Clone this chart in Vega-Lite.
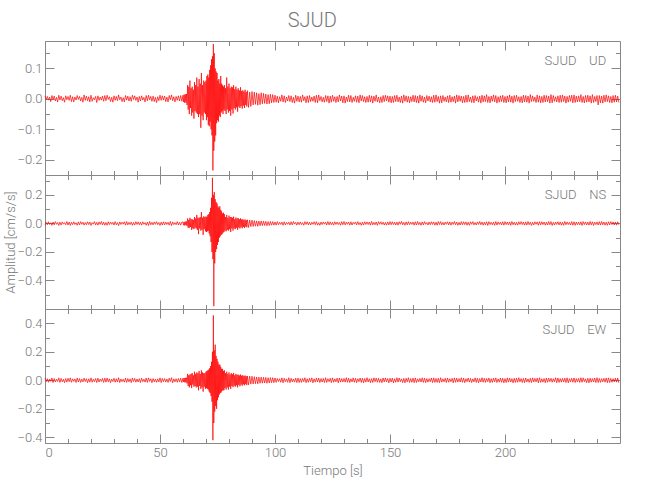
{
"$schema":"https://vega.github.io/schema/vega-lite/v6.json",
"background":"white",
"padding":{"left":3,"top":11,"right":5,"bottom":5},
"title":{"text":"SJUD","fontSize":20,"font":"Liberation Sans Narrow, Roboto, sans-serif","fontWeight":300,"color":"#777","anchor":"middle","offset":9},
"config":{"view":{"stroke":"#888","strokeWidth":1},"axis":{"domain":false,"grid":false,"tickColor":"#888","tickWidth":1,"labelColor":"#777","labelFont":"Liberation Sans Narrow, Roboto, sans-serif","labelFontWeight":300,"labelFontSize":13,"titleFont":"Liberation Sans Narrow, Roboto, sans-serif","titleFontSize":13,"titleColor":"#777","titleFontWeight":300,"labelPadding":12},"text":{"font":"Liberation Sans Narrow, Roboto, sans-serif","fontSize":13,"fontWeight":300,"color":"#777"}},
"spacing":0,
"bounds":"flush",
"datasets":{"d":[
{"t":0,"u":0.010,"n":-0.012,"e":0.015},{"t":0.5,"u":-0.003,"n":0.008,"e":-0.010},{"t":1,"u":0.008,"n":-0.009,"e":0.011},{"t":1.5,"u":-0.004,"n":0.012,"e":-0.014},{"t":2,"u":0.006,"n":-0.007,"e":0.009},{"t":2.5,"u":-0.009,"n":0.005,"e":-0.008},{"t":3,"u":0.011,"n":-0.013,"e":0.016},{"t":3.5,"u":-0.002,"n":0.010,"e":-0.016},{"t":4,"u":0.009,"n":-0.010,"e":0.012},{"t":4.5,"u":-0.007,"n":0.013,"e":-0.012},
{"t":5,"u":0.005,"n":-0.006,"e":0.008},{"t":5.5,"u":-0.010,"n":0.007,"e":-0.009},{"t":6,"u":0.012,"n":-0.014,"e":0.017},{"t":6.5,"u":-0.004,"n":0.009,"e":-0.015},{"t":7,"u":0.009,"n":-0.011,"e":0.013},{"t":7.5,"u":-0.006,"n":0.011,"e":-0.011},{"t":8,"u":0.004,"n":-0.005,"e":0.007},{"t":8.5,"u":-0.011,"n":0.006,"e":-0.017},{"t":9,"u":0.010,"n":-0.009,"e":0.012},{"t":9.5,"u":-0.003,"n":0.014,"e":-0.013},
{"t":10,"u":0.008,"n":-0.011,"e":0.014},{"t":10.5,"u":-0.005,"n":0.010,"e":-0.010},{"t":11,"u":0.012,"n":-0.014,"e":0.017},{"t":11.5,"u":-0.009,"n":0.008,"e":-0.014},{"t":12,"u":0.007,"n":-0.008,"e":0.010},{"t":12.5,"u":-0.010,"n":0.012,"e":-0.008},{"t":13,"u":0.006,"n":-0.007,"e":0.009},{"t":13.5,"u":-0.004,"n":0.005,"e":-0.016},{"t":14,"u":0.011,"n":-0.013,"e":0.016},{"t":14.5,"u":-0.002,"n":0.011,"e":-0.012},
{"t":15,"u":0.008,"n":-0.010,"e":0.012},{"t":15.5,"u":-0.007,"n":0.013,"e":-0.015},{"t":16,"u":0.005,"n":-0.006,"e":0.008},{"t":16.5,"u":-0.011,"n":0.009,"e":-0.011},{"t":17,"u":0.013,"n":-0.012,"e":0.015},{"t":17.5,"u":-0.005,"n":0.007,"e":-0.009},{"t":18,"u":0.009,"n":-0.009,"e":0.011},{"t":18.5,"u":-0.006,"n":0.012,"e":-0.017},{"t":19,"u":0.007,"n":-0.008,"e":0.010},{"t":19.5,"u":-0.010,"n":0.010,"e":-0.013},
{"t":20,"u":0.012,"n":-0.014,"e":0.017},{"t":20.5,"u":-0.008,"n":0.006,"e":-0.014},{"t":21,"u":0.004,"n":-0.005,"e":0.007},{"t":21.5,"u":-0.003,"n":0.013,"e":-0.010},{"t":22,"u":0.008,"n":-0.010,"e":0.012},{"t":22.5,"u":-0.012,"n":0.008,"e":-0.016},{"t":23,"u":0.010,"n":-0.012,"e":0.015},{"t":23.5,"u":-0.005,"n":0.011,"e":-0.012},{"t":24,"u":0.006,"n":-0.007,"e":0.009},{"t":24.5,"u":-0.004,"n":0.014,"e":-0.008},
{"t":25,"u":0.009,"n":-0.010,"e":0.013},{"t":25.5,"u":-0.008,"n":0.009,"e":-0.015},{"t":26,"u":0.011,"n":-0.012,"e":0.015},{"t":26.5,"u":-0.006,"n":0.007,"e":-0.013},{"t":27,"u":0.012,"n":-0.013,"e":0.016},{"t":27.5,"u":-0.002,"n":0.012,"e":-0.011},{"t":28,"u":0.007,"n":-0.008,"e":0.010},{"t":28.5,"u":-0.009,"n":0.010,"e":-0.017},{"t":29,"u":0.005,"n":-0.006,"e":0.008},{"t":29.5,"u":-0.011,"n":0.008,"e":-0.009},
{"t":30,"u":0.010,"n":-0.011,"e":0.014},{"t":30.5,"u":-0.005,"n":0.013,"e":-0.014},{"t":31,"u":0.008,"n":-0.009,"e":0.011},{"t":31.5,"u":-0.006,"n":0.006,"e":-0.012},{"t":32,"u":0.013,"n":-0.015,"e":0.018},{"t":32.5,"u":-0.003,"n":0.011,"e":-0.016},{"t":33,"u":0.006,"n":-0.007,"e":0.009},{"t":33.5,"u":-0.009,"n":0.009,"e":-0.010},{"t":34,"u":0.004,"n":-0.005,"e":0.007},{"t":34.5,"u":-0.010,"n":0.012,"e":-0.013},
{"t":35,"u":0.011,"n":-0.012,"e":0.015},{"t":35.5,"u":-0.004,"n":0.014,"e":-0.015},{"t":36,"u":0.009,"n":-0.010,"e":0.012},{"t":36.5,"u":-0.007,"n":0.008,"e":-0.011},{"t":37,"u":0.007,"n":-0.008,"e":0.010},{"t":37.5,"u":-0.008,"n":0.010,"e":-0.017},{"t":38,"u":0.012,"n":-0.013,"e":0.016},{"t":38.5,"u":-0.002,"n":0.007,"e":-0.009},{"t":39,"u":0.010,"n":-0.011,"e":0.013},{"t":39.5,"u":-0.005,"n":0.013,"e":-0.014},
{"t":40,"u":0.006,"n":-0.007,"e":0.009},{"t":40.5,"u":-0.011,"n":0.011,"e":-0.012},{"t":41,"u":0.008,"n":-0.009,"e":0.011},{"t":41.5,"u":-0.007,"n":0.009,"e":-0.016},{"t":42,"u":0.010,"n":-0.012,"e":0.015},{"t":42.5,"u":-0.004,"n":0.012,"e":-0.010},{"t":43,"u":0.005,"n":-0.006,"e":0.008},{"t":43.5,"u":-0.010,"n":0.006,"e":-0.013},{"t":44,"u":0.011,"n":-0.013,"e":0.016},{"t":44.5,"u":-0.006,"n":0.010,"e":-0.015},
{"t":45,"u":0.012,"n":-0.014,"e":0.017},{"t":45.5,"u":-0.003,"n":0.014,"e":-0.008},{"t":46,"u":0.008,"n":-0.009,"e":0.011},{"t":46.5,"u":-0.008,"n":0.008,"e":-0.017},{"t":47,"u":0.009,"n":-0.010,"e":0.012},{"t":47.5,"u":-0.009,"n":0.011,"e":-0.011},{"t":48,"u":0.005,"n":-0.006,"e":0.008},{"t":48.5,"u":-0.012,"n":0.013,"e":-0.014},{"t":49,"u":0.007,"n":-0.008,"e":0.010},{"t":49.5,"u":-0.006,"n":0.007,"e":-0.012},
{"t":50,"u":0.012,"n":-0.014,"e":0.017},{"t":50.5,"u":-0.005,"n":0.009,"e":-0.016},{"t":51,"u":0.010,"n":-0.011,"e":0.013},{"t":51.5,"u":-0.004,"n":0.012,"e":-0.010},{"t":52,"u":0.009,"n":-0.010,"e":0.012},{"t":52.5,"u":-0.009,"n":0.010,"e":-0.013},{"t":53,"u":0.006,"n":-0.007,"e":0.009},{"t":53.5,"u":-0.010,"n":0.008,"e":-0.015},{"t":54,"u":0.011,"n":-0.012,"e":0.015},{"t":54.5,"u":-0.003,"n":0.014,"e":-0.009},
{"t":55,"u":0.013,"n":-0.015,"e":0.018},{"t":55.5,"u":-0.006,"n":0.011,"e":-0.018},{"t":56,"u":0.007,"n":-0.008,"e":0.010},{"t":56.5,"u":-0.010,"n":0.006,"e":-0.011},{"t":57,"u":0.008,"n":-0.009,"e":0.011},{"t":57.5,"u":-0.005,"n":0.013,"e":-0.014},{"t":58,"u":0.010,"n":-0.011,"e":0.013},{"t":58.5,"u":-0.007,"n":0.009,"e":-0.012},{"t":59,"u":0.011,"n":-0.012,"e":0.015},{"t":59.5,"u":-0.008,"n":0.010,"e":-0.016},
{"t":60,"u":0.012,"n":0.010,"e":0.014},{"t":60.25,"u":-0.010,"n":-0.012,"e":-0.012},{"t":60.5,"u":0.014,"n":0.011,"e":0.016},{"t":60.75,"u":-0.013,"n":-0.014,"e":-0.015},{"t":61,"u":0.015,"n":0.013,"e":0.017},{"t":61.25,"u":-0.012,"n":-0.011,"e":-0.014},{"t":61.5,"u":0.016,"n":0.014,"e":0.018},{"t":61.75,"u":-0.020,"n":-0.018,"e":-0.022},
{"t":62,"u":0.045,"n":0.035,"e":0.045},{"t":62.25,"u":-0.035,"n":-0.030,"e":-0.040},{"t":62.5,"u":0.040,"n":0.025,"e":0.035},{"t":62.75,"u":-0.050,"n":-0.030,"e":-0.050},{"t":63,"u":0.060,"n":0.040,"e":0.040},{"t":63.25,"u":-0.030,"n":-0.025,"e":-0.035},{"t":63.5,"u":0.035,"n":0.030,"e":0.045},{"t":63.75,"u":-0.055,"n":-0.045,"e":-0.055},
{"t":64,"u":0.040,"n":0.030,"e":0.050},{"t":64.25,"u":-0.045,"n":-0.035,"e":-0.030},{"t":64.5,"u":0.030,"n":0.025,"e":0.035},{"t":64.75,"u":-0.065,"n":-0.040,"e":-0.045},{"t":65,"u":0.055,"n":0.045,"e":0.060},{"t":65.25,"u":-0.040,"n":-0.030,"e":-0.040},{"t":65.5,"u":0.045,"n":0.035,"e":0.045},{"t":65.75,"u":-0.045,"n":-0.035,"e":-0.050},
{"t":66,"u":0.070,"n":0.060,"e":0.055},{"t":66.25,"u":-0.050,"n":-0.045,"e":-0.045},{"t":66.5,"u":0.040,"n":0.040,"e":0.050},{"t":66.75,"u":-0.060,"n":-0.075,"e":-0.070},{"t":67,"u":0.065,"n":0.040,"e":0.065},{"t":67.25,"u":-0.050,"n":-0.035,"e":-0.040},{"t":67.5,"u":0.050,"n":0.045,"e":0.045},{"t":67.75,"u":-0.095,"n":-0.050,"e":-0.060},
{"t":68,"u":0.085,"n":0.080,"e":0.070},{"t":68.25,"u":-0.055,"n":-0.045,"e":-0.050},{"t":68.5,"u":0.045,"n":0.040,"e":0.055},{"t":68.75,"u":-0.070,"n":-0.080,"e":-0.080},{"t":69,"u":0.060,"n":0.050,"e":0.050},{"t":69.25,"u":-0.045,"n":-0.040,"e":-0.045},{"t":69.5,"u":0.055,"n":0.045,"e":0.050},{"t":69.75,"u":-0.050,"n":-0.055,"e":-0.060},
{"t":70,"u":0.060,"n":0.050,"e":0.060},{"t":70.2,"u":-0.070,"n":-0.060,"e":-0.055},{"t":70.4,"u":0.075,"n":0.045,"e":0.065},{"t":70.6,"u":-0.060,"n":-0.055,"e":-0.060},{"t":70.8,"u":0.080,"n":0.060,"e":0.070},{"t":71,"u":-0.085,"n":-0.050,"e":-0.065},{"t":71.2,"u":0.070,"n":0.065,"e":0.075},{"t":71.4,"u":-0.090,"n":-0.070,"e":-0.080},{"t":71.6,"u":0.095,"n":0.080,"e":0.085},{"t":71.8,"u":-0.075,"n":-0.090,"e":-0.090},
{"t":72,"u":0.110,"n":0.110,"e":0.100},{"t":72.2,"u":-0.100,"n":-0.130,"e":-0.110},{"t":72.4,"u":0.130,"n":0.180,"e":0.130},{"t":72.6,"u":-0.120,"n":-0.200,"e":-0.150},{"t":72.8,"u":0.140,"n":0.320,"e":0.200},{"t":73,"u":-0.235,"n":-0.250,"e":-0.420},{"t":73.2,"u":0.180,"n":0.200,"e":0.455},{"t":73.4,"u":-0.170,"n":-0.580,"e":-0.300},{"t":73.6,"u":0.150,"n":0.220,"e":0.210},{"t":73.8,"u":-0.140,"n":-0.280,"e":-0.220},
{"t":74,"u":0.100,"n":0.170,"e":0.250},{"t":74.2,"u":-0.120,"n":-0.200,"e":-0.180},{"t":74.4,"u":0.090,"n":0.150,"e":0.170},{"t":74.6,"u":-0.080,"n":-0.180,"e":-0.200},{"t":74.8,"u":0.085,"n":0.140,"e":0.150},{"t":75,"u":-0.070,"n":-0.150,"e":-0.140},{"t":75.2,"u":0.060,"n":0.120,"e":0.130},{"t":75.4,"u":-0.075,"n":-0.130,"e":-0.120},{"t":75.6,"u":0.065,"n":0.110,"e":0.110},{"t":75.8,"u":-0.055,"n":-0.100,"e":-0.100},
{"t":76,"u":0.050,"n":0.120,"e":0.110},{"t":76.2,"u":-0.060,"n":-0.090,"e":-0.090},{"t":76.4,"u":0.075,"n":0.095,"e":0.095},{"t":76.6,"u":-0.045,"n":-0.080,"e":-0.085},{"t":76.8,"u":0.050,"n":0.085,"e":0.080},{"t":77,"u":-0.040,"n":-0.075,"e":-0.075},{"t":77.2,"u":0.045,"n":0.070,"e":0.080},{"t":77.4,"u":-0.050,"n":-0.065,"e":-0.070},{"t":77.6,"u":0.040,"n":0.075,"e":0.065},{"t":77.8,"u":-0.035,"n":-0.060,"e":-0.070},
{"t":78,"u":0.045,"n":0.065,"e":0.070},{"t":78.25,"u":-0.040,"n":-0.050,"e":-0.055},{"t":78.5,"u":0.035,"n":0.045,"e":0.050},{"t":78.75,"u":-0.050,"n":-0.055,"e":-0.065},{"t":79,"u":0.070,"n":0.060,"e":0.060},{"t":79.25,"u":-0.035,"n":-0.045,"e":-0.050},{"t":79.5,"u":0.040,"n":0.040,"e":0.045},{"t":79.75,"u":-0.045,"n":-0.050,"e":-0.065},
{"t":80,"u":0.050,"n":0.055,"e":0.055},{"t":80.25,"u":-0.040,"n":-0.040,"e":-0.045},{"t":80.5,"u":0.035,"n":0.045,"e":0.040},{"t":80.75,"u":-0.055,"n":-0.060,"e":-0.060},{"t":81,"u":0.040,"n":0.045,"e":0.050},{"t":81.25,"u":-0.035,"n":-0.035,"e":-0.040},{"t":81.5,"u":0.038,"n":0.040,"e":0.042},{"t":81.75,"u":-0.048,"n":-0.050,"e":-0.048},
{"t":82,"u":0.045,"n":0.048,"e":0.052},{"t":82.25,"u":-0.030,"n":-0.035,"e":-0.038},{"t":82.5,"u":0.032,"n":0.030,"e":0.035},{"t":82.75,"u":-0.035,"n":-0.040,"e":-0.045},{"t":83,"u":0.040,"n":0.042,"e":0.045},{"t":83.25,"u":-0.028,"n":-0.030,"e":-0.035},{"t":83.5,"u":0.030,"n":0.035,"e":0.038},{"t":83.75,"u":-0.042,"n":-0.045,"e":-0.050},
{"t":84,"u":0.035,"n":0.038,"e":0.040},{"t":84.25,"u":-0.025,"n":-0.028,"e":-0.032},{"t":84.5,"u":0.028,"n":0.030,"e":0.034},{"t":84.75,"u":-0.030,"n":-0.035,"e":-0.042},{"t":85,"u":0.038,"n":0.036,"e":0.040},{"t":85.25,"u":-0.024,"n":-0.026,"e":-0.030},{"t":85.5,"u":0.026,"n":0.028,"e":0.032},{"t":85.75,"u":-0.032,"n":-0.034,"e":-0.038},
{"t":86,"u":0.028,"n":0.030,"e":0.036},{"t":86.25,"u":-0.022,"n":-0.024,"e":-0.028},{"t":86.5,"u":0.024,"n":0.025,"e":0.030},{"t":86.75,"u":-0.030,"n":-0.032,"e":-0.035},{"t":87,"u":0.030,"n":0.028,"e":0.033},{"t":87.25,"u":-0.020,"n":-0.022,"e":-0.027},{"t":87.5,"u":0.022,"n":0.023,"e":0.028},{"t":87.75,"u":-0.025,"n":-0.027,"e":-0.034},
{"t":88,"u":0.027,"n":0.026,"e":0.030},{"t":88.5,"u":-0.028,"n":-0.028,"e":-0.032},{"t":89,"u":0.022,"n":0.024,"e":0.029},{"t":89.5,"u":-0.025,"n":-0.022,"e":-0.027},{"t":90,"u":0.024,"n":0.023,"e":0.028},{"t":90.5,"u":-0.020,"n":-0.021,"e":-0.026},{"t":91,"u":0.022,"n":0.020,"e":0.025},{"t":91.5,"u":-0.018,"n":-0.019,"e":-0.024},{"t":92,"u":0.020,"n":0.018,"e":0.023},{"t":92.5,"u":-0.021,"n":-0.020,"e":-0.025},
{"t":93,"u":0.017,"n":0.017,"e":0.022},{"t":93.5,"u":-0.019,"n":-0.016,"e":-0.021},{"t":94,"u":0.020,"n":0.018,"e":0.022},{"t":94.5,"u":-0.016,"n":-0.015,"e":-0.020},{"t":95,"u":0.018,"n":0.016,"e":0.021},{"t":95.5,"u":-0.015,"n":-0.014,"e":-0.019},{"t":96,"u":0.016,"n":0.015,"e":0.020},{"t":96.5,"u":-0.017,"n":-0.016,"e":-0.021},{"t":97,"u":0.014,"n":0.013,"e":0.018},{"t":97.5,"u":-0.016,"n":-0.014,"e":-0.019},
{"t":98,"u":0.015,"n":0.014,"e":0.019},{"t":98.5,"u":-0.013,"n":-0.012,"e":-0.017},{"t":99,"u":0.014,"n":0.013,"e":0.018},{"t":99.5,"u":-0.012,"n":-0.012,"e":-0.017},
{"t":100,"u":0.012,"n":0.011,"e":0.016},{"t":100.5,"u":-0.011,"n":-0.012,"e":-0.015},{"t":101,"u":0.009,"n":0.013,"e":0.013},{"t":101.5,"u":-0.013,"n":-0.009,"e":-0.009},{"t":102,"u":0.007,"n":0.008,"e":0.011},{"t":102.5,"u":-0.008,"n":-0.007,"e":-0.014},{"t":103,"u":0.013,"n":0.010,"e":0.017},{"t":103.5,"u":-0.010,"n":-0.013,"e":-0.018},{"t":104,"u":0.010,"n":0.012,"e":0.014},{"t":104.5,"u":-0.012,"n":-0.010,"e":-0.010},
{"t":105,"u":0.006,"n":0.007,"e":0.010},{"t":105.5,"u":-0.007,"n":-0.006,"e":-0.014},{"t":106,"u":0.011,"n":0.009,"e":0.018},{"t":106.5,"u":-0.009,"n":-0.011,"e":-0.017},{"t":107,"u":0.010,"n":0.012,"e":0.014},{"t":107.5,"u":-0.012,"n":-0.010,"e":-0.011},{"t":108,"u":0.005,"n":0.014,"e":0.009},{"t":108.5,"u":-0.014,"n":-0.005,"e":-0.013},{"t":109,"u":0.012,"n":0.008,"e":0.015},{"t":109.5,"u":-0.008,"n":-0.012,"e":-0.016},
{"t":110,"u":0.009,"n":0.010,"e":0.016},{"t":110.5,"u":-0.010,"n":-0.009,"e":-0.016},{"t":111,"u":0.008,"n":0.011,"e":0.012},{"t":111.5,"u":-0.011,"n":-0.008,"e":-0.015},{"t":112,"u":0.013,"n":0.006,"e":0.013},{"t":112.5,"u":-0.006,"n":-0.013,"e":-0.010},{"t":113,"u":0.007,"n":0.013,"e":0.018},{"t":113.5,"u":-0.013,"n":-0.007,"e":-0.017},{"t":114,"u":0.010,"n":0.012,"e":0.011},{"t":114.5,"u":-0.012,"n":-0.010,"e":-0.014},
{"t":115,"u":0.011,"n":0.009,"e":0.014},{"t":115.5,"u":-0.009,"n":-0.011,"e":-0.011},{"t":116,"u":0.006,"n":0.008,"e":0.017},{"t":116.5,"u":-0.008,"n":-0.006,"e":-0.018},{"t":117,"u":0.009,"n":0.012,"e":0.010},{"t":117.5,"u":-0.012,"n":-0.009,"e":-0.013},{"t":118,"u":0.012,"n":0.013,"e":0.015},{"t":118.5,"u":-0.013,"n":-0.012,"e":-0.012},{"t":119,"u":0.013,"n":0.006,"e":0.016},{"t":119.5,"u":-0.006,"n":-0.013,"e":-0.016},
{"t":120,"u":0.008,"n":0.010,"e":0.012},{"t":120.5,"u":-0.010,"n":-0.008,"e":-0.012},{"t":121,"u":0.005,"n":0.011,"e":0.013},{"t":121.5,"u":-0.011,"n":-0.005,"e":-0.016},{"t":122,"u":0.011,"n":0.009,"e":0.018},{"t":122.5,"u":-0.009,"n":-0.011,"e":-0.015},{"t":123,"u":0.010,"n":0.014,"e":0.011},{"t":123.5,"u":-0.014,"n":-0.010,"e":-0.010},{"t":124,"u":0.009,"n":0.011,"e":0.014},{"t":124.5,"u":-0.011,"n":-0.009,"e":-0.017},
{"t":125,"u":0.012,"n":0.008,"e":0.017},{"t":125.5,"u":-0.008,"n":-0.012,"e":-0.014},{"t":126,"u":0.007,"n":0.012,"e":0.010},{"t":126.5,"u":-0.012,"n":-0.007,"e":-0.011},{"t":127,"u":0.008,"n":0.010,"e":0.015},{"t":127.5,"u":-0.010,"n":-0.008,"e":-0.018},{"t":128,"u":0.013,"n":0.007,"e":0.016},{"t":128.5,"u":-0.007,"n":-0.013,"e":-0.013},{"t":129,"u":0.009,"n":0.013,"e":0.012},{"t":129.5,"u":-0.013,"n":-0.009,"e":-0.012},
{"t":130,"u":0.010,"n":0.014,"e":0.013},{"t":130.5,"u":-0.014,"n":-0.010,"e":-0.013},{"t":131,"u":0.006,"n":0.009,"e":0.018},{"t":131.5,"u":-0.009,"n":-0.006,"e":-0.014},{"t":132,"u":0.012,"n":0.010,"e":0.015},{"t":132.5,"u":-0.010,"n":-0.012,"e":-0.016},{"t":133,"u":0.011,"n":0.012,"e":0.010},{"t":133.5,"u":-0.012,"n":-0.011,"e":-0.011},{"t":134,"u":0.005,"n":0.008,"e":0.017},{"t":134.5,"u":-0.008,"n":-0.005,"e":-0.014},
{"t":135,"u":0.010,"n":0.011,"e":0.014},{"t":135.5,"u":-0.011,"n":-0.010,"e":-0.017},{"t":136,"u":0.009,"n":0.013,"e":0.011},{"t":136.5,"u":-0.013,"n":-0.009,"e":-0.010},{"t":137,"u":0.013,"n":0.007,"e":0.016},{"t":137.5,"u":-0.007,"n":-0.013,"e":-0.015},{"t":138,"u":0.011,"n":0.009,"e":0.014},{"t":138.5,"u":-0.009,"n":-0.011,"e":-0.018},{"t":139,"u":0.007,"n":0.012,"e":0.013},{"t":139.5,"u":-0.012,"n":-0.007,"e":-0.013},
{"t":140,"u":0.008,"n":0.011,"e":0.018},{"t":140.5,"u":-0.011,"n":-0.008,"e":-0.012},{"t":141,"u":0.012,"n":0.010,"e":0.011},{"t":141.5,"u":-0.010,"n":-0.012,"e":-0.017},{"t":142,"u":0.010,"n":0.014,"e":0.012},{"t":142.5,"u":-0.014,"n":-0.010,"e":-0.016},{"t":143,"u":0.009,"n":0.008,"e":0.017},{"t":143.5,"u":-0.008,"n":-0.009,"e":-0.010},{"t":144,"u":0.013,"n":0.010,"e":0.015},{"t":144.5,"u":-0.010,"n":-0.013,"e":-0.014},
{"t":145,"u":0.006,"n":0.013,"e":0.014},{"t":145.5,"u":-0.013,"n":-0.006,"e":-0.015},{"t":146,"u":0.007,"n":0.012,"e":0.010},{"t":146.5,"u":-0.012,"n":-0.007,"e":-0.017},{"t":147,"u":0.011,"n":0.009,"e":0.016},{"t":147.5,"u":-0.009,"n":-0.011,"e":-0.012},{"t":148,"u":0.012,"n":0.007,"e":0.017},{"t":148.5,"u":-0.007,"n":-0.012,"e":-0.011},{"t":149,"u":0.010,"n":0.011,"e":0.012},{"t":149.5,"u":-0.011,"n":-0.010,"e":-0.018},
{"t":150,"u":0.009,"n":0.013,"e":0.014},{"t":150.5,"u":-0.013,"n":-0.009,"e":-0.012},{"t":151,"u":0.008,"n":0.012,"e":0.015},{"t":151.5,"u":-0.012,"n":-0.008,"e":-0.018},{"t":152,"u":0.011,"n":0.009,"e":0.011},{"t":152.5,"u":-0.009,"n":-0.011,"e":-0.014},{"t":153,"u":0.012,"n":0.010,"e":0.018},{"t":153.5,"u":-0.010,"n":-0.012,"e":-0.013},{"t":154,"u":0.006,"n":0.012,"e":0.016},{"t":154.5,"u":-0.012,"n":-0.006,"e":-0.010},
{"t":155,"u":0.009,"n":0.014,"e":0.010},{"t":155.5,"u":-0.014,"n":-0.009,"e":-0.016},{"t":156,"u":0.013,"n":0.008,"e":0.013},{"t":156.5,"u":-0.008,"n":-0.013,"e":-0.018},{"t":157,"u":0.010,"n":0.011,"e":0.014},{"t":157.5,"u":-0.011,"n":-0.010,"e":-0.011},{"t":158,"u":0.008,"n":0.013,"e":0.018},{"t":158.5,"u":-0.013,"n":-0.008,"e":-0.015},{"t":159,"u":0.007,"n":0.009,"e":0.012},{"t":159.5,"u":-0.009,"n":-0.007,"e":-0.014},
{"t":160,"u":0.012,"n":0.010,"e":0.015},{"t":160.5,"u":-0.010,"n":-0.012,"e":-0.017},{"t":161,"u":0.011,"n":0.012,"e":0.016},{"t":161.5,"u":-0.012,"n":-0.011,"e":-0.016},{"t":162,"u":0.009,"n":0.014,"e":0.010},{"t":162.5,"u":-0.014,"n":-0.009,"e":-0.011},{"t":163,"u":0.013,"n":0.008,"e":0.013},{"t":163.5,"u":-0.008,"n":-0.013,"e":-0.012},{"t":164,"u":0.010,"n":0.011,"e":0.017},{"t":164.5,"u":-0.011,"n":-0.010,"e":-0.015},
{"t":165,"u":0.006,"n":0.013,"e":0.015},{"t":165.5,"u":-0.013,"n":-0.006,"e":-0.017},{"t":166,"u":0.011,"n":0.007,"e":0.012},{"t":166.5,"u":-0.007,"n":-0.011,"e":-0.013},{"t":167,"u":0.009,"n":0.010,"e":0.011},{"t":167.5,"u":-0.010,"n":-0.009,"e":-0.010},{"t":168,"u":0.007,"n":0.012,"e":0.016},{"t":168.5,"u":-0.012,"n":-0.007,"e":-0.016},{"t":169,"u":0.012,"n":0.011,"e":0.017},{"t":169.5,"u":-0.011,"n":-0.012,"e":-0.015},
{"t":170,"u":0.013,"n":0.009,"e":0.013},{"t":170.5,"u":-0.009,"n":-0.013,"e":-0.015},{"t":171,"u":0.008,"n":0.014,"e":0.014},{"t":171.5,"u":-0.014,"n":-0.008,"e":-0.017},{"t":172,"u":0.010,"n":0.013,"e":0.018},{"t":172.5,"u":-0.013,"n":-0.010,"e":-0.013},{"t":173,"u":0.011,"n":0.008,"e":0.010},{"t":173.5,"u":-0.008,"n":-0.011,"e":-0.011},{"t":174,"u":0.006,"n":0.010,"e":0.014},{"t":174.5,"u":-0.010,"n":-0.006,"e":-0.016},
{"t":175,"u":0.010,"n":0.012,"e":0.016},{"t":175.5,"u":-0.012,"n":-0.010,"e":-0.014},{"t":176,"u":0.012,"n":0.011,"e":0.011},{"t":176.5,"u":-0.011,"n":-0.012,"e":-0.010},{"t":177,"u":0.007,"n":0.009,"e":0.013},{"t":177.5,"u":-0.009,"n":-0.007,"e":-0.018},{"t":178,"u":0.009,"n":0.014,"e":0.017},{"t":178.5,"u":-0.014,"n":-0.009,"e":-0.014},{"t":179,"u":0.013,"n":0.010,"e":0.015},{"t":179.5,"u":-0.010,"n":-0.013,"e":-0.013},
{"t":180,"u":0.011,"n":0.008,"e":0.012},{"t":180.5,"u":-0.008,"n":-0.011,"e":-0.012},{"t":181,"u":0.009,"n":0.013,"e":0.018},{"t":181.5,"u":-0.013,"n":-0.009,"e":-0.014},{"t":182,"u":0.008,"n":0.012,"e":0.015},{"t":182.5,"u":-0.012,"n":-0.008,"e":-0.017},{"t":183,"u":0.012,"n":0.011,"e":0.011},{"t":183.5,"u":-0.011,"n":-0.012,"e":-0.010},{"t":184,"u":0.013,"n":0.009,"e":0.016},{"t":184.5,"u":-0.009,"n":-0.013,"e":-0.013},
{"t":185,"u":0.006,"n":0.012,"e":0.013},{"t":185.5,"u":-0.012,"n":-0.006,"e":-0.016},{"t":186,"u":0.010,"n":0.013,"e":0.010},{"t":186.5,"u":-0.013,"n":-0.010,"e":-0.011},{"t":187,"u":0.011,"n":0.007,"e":0.017},{"t":187.5,"u":-0.007,"n":-0.011,"e":-0.015},{"t":188,"u":0.007,"n":0.011,"e":0.014},{"t":188.5,"u":-0.011,"n":-0.007,"e":-0.018},{"t":189,"u":0.009,"n":0.014,"e":0.012},{"t":189.5,"u":-0.014,"n":-0.009,"e":-0.012},
{"t":190,"u":0.012,"n":0.010,"e":0.018},{"t":190.5,"u":-0.010,"n":-0.012,"e":-0.014},{"t":191,"u":0.010,"n":0.009,"e":0.014},{"t":191.5,"u":-0.009,"n":-0.010,"e":-0.015},{"t":192,"u":0.014,"n":0.012,"e":0.013},{"t":192.5,"u":-0.012,"n":-0.014,"e":-0.010},{"t":193,"u":0.008,"n":0.013,"e":0.016},{"t":193.5,"u":-0.013,"n":-0.008,"e":-0.017},{"t":194,"u":0.009,"n":0.008,"e":0.011},{"t":194.5,"u":-0.008,"n":-0.009,"e":-0.015},
{"t":195,"u":0.013,"n":0.010,"e":0.015},{"t":195.5,"u":-0.010,"n":-0.013,"e":-0.011},{"t":196,"u":0.011,"n":0.014,"e":0.017},{"t":196.5,"u":-0.014,"n":-0.011,"e":-0.016},{"t":197,"u":0.007,"n":0.011,"e":0.010},{"t":197.5,"u":-0.011,"n":-0.007,"e":-0.013},{"t":198,"u":0.010,"n":0.009,"e":0.015},{"t":198.5,"u":-0.009,"n":-0.010,"e":-0.014},{"t":199,"u":0.012,"n":0.012,"e":0.014},{"t":199.5,"u":-0.012,"n":-0.012,"e":-0.018},
{"t":200,"u":0.008,"n":0.013,"e":0.012},{"t":200.5,"u":-0.013,"n":-0.008,"e":-0.016},{"t":201,"u":0.010,"n":0.010,"e":0.017},{"t":201.5,"u":-0.010,"n":-0.010,"e":-0.013},{"t":202,"u":0.013,"n":0.011,"e":0.016},{"t":202.5,"u":-0.011,"n":-0.013,"e":-0.012},{"t":203,"u":0.009,"n":0.014,"e":0.011},{"t":203.5,"u":-0.014,"n":-0.009,"e":-0.018},{"t":204,"u":0.011,"n":0.009,"e":0.014},{"t":204.5,"u":-0.009,"n":-0.011,"e":-0.015},
{"t":205,"u":0.012,"n":0.008,"e":0.015},{"t":205.5,"u":-0.008,"n":-0.012,"e":-0.014},{"t":206,"u":0.007,"n":0.012,"e":0.018},{"t":206.5,"u":-0.012,"n":-0.007,"e":-0.011},{"t":207,"u":0.008,"n":0.013,"e":0.012},{"t":207.5,"u":-0.013,"n":-0.008,"e":-0.016},{"t":208,"u":0.012,"n":0.010,"e":0.013},{"t":208.5,"u":-0.010,"n":-0.012,"e":-0.017},{"t":209,"u":0.011,"n":0.011,"e":0.016},{"t":209.5,"u":-0.011,"n":-0.011,"e":-0.012},
{"t":210,"u":0.009,"n":0.014,"e":0.010},{"t":210.5,"u":-0.014,"n":-0.009,"e":-0.015},{"t":211,"u":0.014,"n":0.009,"e":0.014},{"t":211.5,"u":-0.009,"n":-0.014,"e":-0.016},{"t":212,"u":0.010,"n":0.008,"e":0.017},{"t":212.5,"u":-0.008,"n":-0.010,"e":-0.012},{"t":213,"u":0.006,"n":0.012,"e":0.013},{"t":213.5,"u":-0.012,"n":-0.006,"e":-0.011},{"t":214,"u":0.013,"n":0.011,"e":0.015},{"t":214.5,"u":-0.011,"n":-0.013,"e":-0.018},
{"t":215,"u":0.010,"n":0.013,"e":0.018},{"t":215.5,"u":-0.013,"n":-0.010,"e":-0.015},{"t":216,"u":0.008,"n":0.012,"e":0.011},{"t":216.5,"u":-0.012,"n":-0.008,"e":-0.013},{"t":217,"u":0.012,"n":0.010,"e":0.012},{"t":217.5,"u":-0.010,"n":-0.012,"e":-0.017},{"t":218,"u":0.011,"n":0.009,"e":0.016},{"t":218.5,"u":-0.009,"n":-0.011,"e":-0.014},{"t":219,"u":0.009,"n":0.014,"e":0.015},{"t":219.5,"u":-0.014,"n":-0.009,"e":-0.010},
{"t":220,"u":0.014,"n":0.013,"e":0.014},{"t":220.5,"u":-0.013,"n":-0.014,"e":-0.014},{"t":221,"u":0.011,"n":0.008,"e":0.011},{"t":221.5,"u":-0.008,"n":-0.011,"e":-0.011},{"t":222,"u":0.007,"n":0.010,"e":0.018},{"t":222.5,"u":-0.010,"n":-0.007,"e":-0.017},{"t":223,"u":0.010,"n":0.012,"e":0.016},{"t":223.5,"u":-0.012,"n":-0.010,"e":-0.015},{"t":224,"u":0.012,"n":0.011,"e":0.012},{"t":224.5,"u":-0.011,"n":-0.012,"e":-0.013},
{"t":225,"u":0.013,"n":0.009,"e":0.013},{"t":225.5,"u":-0.009,"n":-0.013,"e":-0.012},{"t":226,"u":0.009,"n":0.014,"e":0.015},{"t":226.5,"u":-0.014,"n":-0.009,"e":-0.016},{"t":227,"u":0.008,"n":0.011,"e":0.017},{"t":227.5,"u":-0.011,"n":-0.008,"e":-0.018},{"t":228,"u":0.011,"n":0.008,"e":0.011},{"t":228.5,"u":-0.008,"n":-0.011,"e":-0.011},{"t":229,"u":0.012,"n":0.013,"e":0.014},{"t":229.5,"u":-0.013,"n":-0.012,"e":-0.014},
{"t":230,"u":0.013,"n":0.012,"e":0.016},{"t":230.5,"u":-0.012,"n":-0.013,"e":-0.016},{"t":231,"u":0.009,"n":0.010,"e":0.012},{"t":231.5,"u":-0.010,"n":-0.009,"e":-0.012},{"t":232,"u":0.010,"n":0.009,"e":0.013},{"t":232.5,"u":-0.009,"n":-0.010,"e":-0.015},{"t":233,"u":0.014,"n":0.012,"e":0.018},{"t":233.5,"u":-0.012,"n":-0.014,"e":-0.014},{"t":234,"u":0.008,"n":0.013,"e":0.017},{"t":234.5,"u":-0.013,"n":-0.008,"e":-0.010},
{"t":235,"u":0.011,"n":0.011,"e":0.010},{"t":235.5,"u":-0.011,"n":-0.011,"e":-0.017},{"t":236,"u":0.012,"n":0.010,"e":0.014},{"t":236.5,"u":-0.010,"n":-0.012,"e":-0.018},{"t":237,"u":0.010,"n":0.014,"e":0.015},{"t":237.5,"u":-0.014,"n":-0.010,"e":-0.013},{"t":238,"u":0.014,"n":0.012,"e":0.012},{"t":238.5,"u":-0.012,"n":-0.014,"e":-0.012},{"t":239,"u":0.008,"n":0.009,"e":0.016},{"t":239.5,"u":-0.009,"n":-0.008,"e":-0.016},
{"t":240,"u":0.011,"n":0.011,"e":0.018},{"t":240.5,"u":-0.020,"n":-0.011,"e":-0.016},{"t":241,"u":0.011,"n":0.013,"e":0.013},{"t":241.5,"u":-0.013,"n":-0.011,"e":-0.015},{"t":242,"u":0.009,"n":0.014,"e":0.011},{"t":242.5,"u":-0.014,"n":-0.009,"e":-0.011},{"t":243,"u":0.012,"n":0.010,"e":0.014},{"t":243.5,"u":-0.010,"n":-0.012,"e":-0.013},{"t":244,"u":0.013,"n":0.009,"e":0.016},{"t":244.5,"u":-0.009,"n":-0.013,"e":-0.017},
{"t":245,"u":0.010,"n":0.012,"e":0.017},{"t":245.5,"u":-0.012,"n":-0.010,"e":-0.016},{"t":246,"u":0.008,"n":0.013,"e":0.013},{"t":246.5,"u":-0.013,"n":-0.008,"e":-0.014},{"t":247,"u":0.011,"n":0.011,"e":0.011},{"t":247.5,"u":-0.011,"n":-0.011,"e":-0.011},{"t":248,"u":0.012,"n":0.010,"e":0.015},{"t":248.5,"u":-0.010,"n":-0.012,"e":-0.013},{"t":249,"u":0.009,"n":0.012,"e":0.016},{"t":249.5,"u":-0.012,"n":-0.009,"e":-0.018}
]},
"vconcat":[
{"width":575,"height":134,"data":{"name":"d"},
 "resolve":{"axis":{"x":"independent","y":"independent"}},
 "layer":[
  {"mark":{"type":"line","stroke":"#ff0000","strokeWidth":0.7},
   "encoding":{"x":{"field":"t","type":"quantitative","scale":{"domain":[0,250],"nice":false,"zero":false},"axis":{"orient":"bottom","values":[0,50,100,150,200],"tickSize":-9,"labels":false,"title":null}},
    "y":{"field":"u","type":"quantitative","scale":{"domain":[-0.25,0.19],"nice":false,"zero":false},"axis":{"orient":"left","values":[-0.2,-0.1,0,0.1],"tickSize":-9,"format":".1f","title":null}}}},
  {"mark":{"type":"line","opacity":0},
   "encoding":{"x":{"field":"t","type":"quantitative","axis":{"orient":"top","values":[0,50,100,150,200],"tickSize":-9,"labels":false,"title":null}},
    "y":{"field":"u","type":"quantitative","axis":{"orient":"right","values":[-0.2,-0.1,0,0.1],"tickSize":-9,"labels":false,"title":null}}}},
  {"mark":{"type":"line","opacity":0},
   "encoding":{"x":{"field":"t","type":"quantitative","axis":{"orient":"bottom","values":[10,20,30,40,60,70,80,90,110,120,130,140,160,170,180,190,210,220,230,240],"tickSize":-4.5,"labels":false,"title":null}},
    "y":{"field":"u","type":"quantitative","axis":{"orient":"left","values":[-0.15,-0.05,0.05,0.15],"tickSize":-4.5,"labels":false,"title":null}}}},
  {"mark":{"type":"line","opacity":0},
   "encoding":{"x":{"field":"t","type":"quantitative","axis":{"orient":"top","values":[10,20,30,40,60,70,80,90,110,120,130,140,160,170,180,190,210,220,230,240],"tickSize":-4.5,"labels":false,"title":null}},
    "y":{"field":"u","type":"quantitative","axis":{"orient":"right","values":[-0.15,-0.05,0.05,0.15],"tickSize":-4.5,"labels":false,"title":null}}}},
  {"data":{"values":[{"s":"SJUD\u00a0\u00a0\u00a0\u00a0UD"}]},"mark":{"type":"text","align":"right","baseline":"middle"},
   "encoding":{"x":{"datum":244,"type":"quantitative","axis":null},"y":{"datum":0.125,"type":"quantitative","axis":null},"text":{"field":"s"}}}
 ]},
{"width":575,"height":134,"data":{"name":"d"},
 "resolve":{"axis":{"x":"independent","y":"independent"}},
 "layer":[
  {"mark":{"type":"line","stroke":"#ff0000","strokeWidth":0.7},
   "encoding":{"x":{"field":"t","type":"quantitative","scale":{"domain":[0,250],"nice":false,"zero":false},"axis":{"orient":"bottom","values":[0,50,100,150,200],"tickSize":-9,"labels":false,"title":null}},
    "y":{"field":"n","type":"quantitative","scale":{"domain":[-0.6,0.34],"nice":false,"zero":false},"axis":{"orient":"left","values":[-0.4,-0.2,0,0.2],"tickSize":-9,"format":".1f","title":"Amplitud [cm/s/s]","titlePadding":0}}}},
  {"mark":{"type":"line","opacity":0},
   "encoding":{"x":{"field":"t","type":"quantitative","axis":{"orient":"top","values":[0,50,100,150,200],"tickSize":-9,"labels":false,"title":null}},
    "y":{"field":"n","type":"quantitative","axis":{"orient":"right","values":[-0.4,-0.2,0,0.2],"tickSize":-9,"labels":false,"title":null}}}},
  {"mark":{"type":"line","opacity":0},
   "encoding":{"x":{"field":"t","type":"quantitative","axis":{"orient":"bottom","values":[10,20,30,40,60,70,80,90,110,120,130,140,160,170,180,190,210,220,230,240],"tickSize":-4.5,"labels":false,"title":null}},
    "y":{"field":"n","type":"quantitative","axis":{"orient":"left","values":[-0.5,-0.3,-0.1,0.1,0.3],"tickSize":-4.5,"labels":false,"title":null}}}},
  {"mark":{"type":"line","opacity":0},
   "encoding":{"x":{"field":"t","type":"quantitative","axis":{"orient":"top","values":[10,20,30,40,60,70,80,90,110,120,130,140,160,170,180,190,210,220,230,240],"tickSize":-4.5,"labels":false,"title":null}},
    "y":{"field":"n","type":"quantitative","axis":{"orient":"right","values":[-0.5,-0.3,-0.1,0.1,0.3],"tickSize":-4.5,"labels":false,"title":null}}}},
  {"data":{"values":[{"s":"SJUD\u00a0\u00a0\u00a0\u00a0NS"}]},"mark":{"type":"text","align":"right","baseline":"middle"},
   "encoding":{"x":{"datum":244,"type":"quantitative","axis":null},"y":{"datum":0.2,"type":"quantitative","axis":null},"text":{"field":"s"}}}
 ]},
{"width":575,"height":134,"data":{"name":"d"},
 "resolve":{"axis":{"x":"independent","y":"independent"}},
 "layer":[
  {"mark":{"type":"line","stroke":"#ff0000","strokeWidth":0.7},
   "encoding":{"x":{"field":"t","type":"quantitative","scale":{"domain":[0,250],"nice":false,"zero":false},"axis":{"orient":"bottom","values":[0,50,100,150,200],"tickSize":-9,"labels":true,"format":"d","title":"Tiempo [s]","titlePadding":5}},
    "y":{"field":"e","type":"quantitative","scale":{"domain":[-0.44,0.5],"nice":false,"zero":false},"axis":{"orient":"left","values":[-0.4,-0.2,0,0.2,0.4],"tickSize":-9,"format":".1f","title":null}}}},
  {"mark":{"type":"line","opacity":0},
   "encoding":{"x":{"field":"t","type":"quantitative","axis":{"orient":"top","values":[0,50,100,150,200],"tickSize":-9,"labels":false,"title":null}},
    "y":{"field":"e","type":"quantitative","axis":{"orient":"right","values":[-0.4,-0.2,0,0.2,0.4],"tickSize":-9,"labels":false,"title":null}}}},
  {"mark":{"type":"line","opacity":0},
   "encoding":{"x":{"field":"t","type":"quantitative","axis":{"orient":"bottom","values":[10,20,30,40,60,70,80,90,110,120,130,140,160,170,180,190,210,220,230,240],"tickSize":-4.5,"labels":false,"title":null}},
    "y":{"field":"e","type":"quantitative","axis":{"orient":"left","values":[-0.3,-0.1,0.1,0.3],"tickSize":-4.5,"labels":false,"title":null}}}},
  {"mark":{"type":"line","opacity":0},
   "encoding":{"x":{"field":"t","type":"quantitative","axis":{"orient":"top","values":[10,20,30,40,60,70,80,90,110,120,130,140,160,170,180,190,210,220,230,240],"tickSize":-4.5,"labels":false,"title":null}},
    "y":{"field":"e","type":"quantitative","axis":{"orient":"right","values":[-0.3,-0.1,0.1,0.3],"tickSize":-4.5,"labels":false,"title":null}}}},
  {"data":{"values":[{"s":"SJUD\u00a0\u00a0\u00a0\u00a0EW"}]},"mark":{"type":"text","align":"right","baseline":"middle"},
   "encoding":{"x":{"datum":244,"type":"quantitative","axis":null},"y":{"datum":0.35,"type":"quantitative","axis":null},"text":{"field":"s"}}}
 ]}
]
}
